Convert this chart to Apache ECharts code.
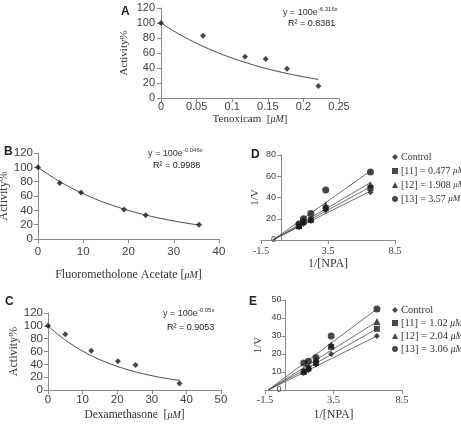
<!DOCTYPE html>
<html>
<head>
<meta charset="utf-8">
<script src="https://cdn.jsdelivr.net/npm/echarts@6/dist/echarts.min.js"></script>
<style>
html, body { margin: 0; padding: 0; background: #fff; }
#main { width: 461px; height: 431px; }
</style>
</head>
<body>
<div id="main"></div>
<script>
// panel A - tenoxicam
var tenoxX = [0, 0.059, 0.118, 0.147, 0.177, 0.221];
var tenoxY = [100, 83, 55, 52, 39, 16];
// panel B - fluorometholone acetate
var fluoX = [0, 4.8, 9.5, 19, 23.8, 35.6];
var fluoY = [100, 78, 65, 41, 33, 20];
// panel C - dexamethasone
var dexaX = [0, 5, 12.5, 20.2, 25.3, 38];
var dexaY = [100, 87, 61, 45, 39, 10];
// exponential trendlines y = 100e^(kx), as printed on the chart
var expK = [-6.316, -0.046, -0.05];
var expLabels = ['-6.316x', '-0.046x', '-0.05x'];
var r2Labels = ['0.8381', '0.9988', '0.9053'];

// panels D and E - Lineweaver-Burk
var npaX = [1.33, 1.67, 2.22, 3.33, 6.67];
var namesD = ['Control', '[11] = 0.477 μM', '[12] = 1.908 μM', '[13] = 3.57 μM'];
var namesE = ['Control', '[11] = 1.02 μM', '[12] = 2.04 μM', '[13] = 3.06 μM'];
var valuesD = [
    [12, 15, 18, 28, 45],
    [13, 17, 19, 30, 49],
    [14, 19, 20, 33, 52],
    [15, 20, 25, 47, 64]
];
var valuesE = [
    [9.5, 11, 14, 20, 30],
    [10, 12, 15, 24, 34],
    [11, 13, 17, 25, 38],
    [15, 16, 18, 30, 45]
];
// linear trendlines: shared x-intercept, value at last x
var lineStartD = -0.62, lineEndD = [46, 50, 54, 65];
var lineStartE = -1.26, lineEndE = [30, 34, 38, 45];
var symbols = ['diamond', 'rect', 'triangle', 'circle'];
var symbolSizes = [6, 6, 7, 7];

var sans = '"Liberation Sans", Arial, sans-serif';
var serif = '"Liberation Serif", "Times New Roman", serif';
var axisGray = '#8a8a8a';
var labelGray = '#404040';
var ink = '#1a1a1a';

// grid boxes
var grids = [
    { left: 161, top: 8, width: 178, height: 90 },
    { left: 38, top: 153, width: 181, height: 86 },
    { left: 48, top: 313, width: 173, height: 77 },
    { left: 261, top: 155, width: 134, height: 85 },
    { left: 265, top: 300, width: 137, height: 90 }
];

function zip(xs, ys) {
    return xs.map(function (x, i) { return [x, ys[i]]; });
}
function expCurve(xs, k) {
    var xMax = xs[xs.length - 1];
    var pts = [];
    for (var i = 0; i <= 40; i++) {
        var x = xMax * i / 40;
        pts.push([x, 100 * Math.exp(k * x)]);
    }
    return pts;
}

var muRich = { i: { fontStyle: 'italic', fontFamily: serif, fontSize: 10, color: '#333' } };

function xAx(idx, min, max, interval, name, o) {
    return {
        type: 'value', gridIndex: idx, min: min, max: max, interval: interval,
        splitLine: { show: false },
        axisLine: { onZero: false, lineStyle: { color: axisGray } },
        axisTick: { show: true, length: 4, lineStyle: { color: axisGray } },
        axisLabel: { fontFamily: o.labelFont || sans, fontSize: o.labelSize, color: labelGray, margin: o.margin },
        name: name, nameLocation: 'middle', nameGap: o.nameGap,
        nameTextStyle: { fontFamily: serif, fontSize: o.nameSize, color: '#333', rich: muRich }
    };
}
function yAx(idx, max, interval, name, o) {
    return {
        type: 'value', gridIndex: idx, min: 0, max: max, interval: interval,
        offset: o.offset || 0,
        splitLine: { show: false },
        axisLine: { onZero: false, lineStyle: { color: axisGray } },
        axisTick: { show: true, length: 4, lineStyle: { color: axisGray } },
        axisLabel: { fontFamily: sans, fontSize: o.labelSize, color: labelGray, margin: o.margin },
        name: name, nameLocation: 'middle', nameGap: o.nameGap,
        nameTextStyle: { fontFamily: serif, fontSize: o.nameSize, color: '#333' }
    };
}
// y axis of D/E crosses the x axis at 0 (x range -1.5..8.5)
function zeroOffset(g) {
    return -(1.5 / 10) * g.width;
}

var series = [];
// A-C scatter + curve
[[tenoxX, tenoxY], [fluoX, fluoY], [dexaX, dexaY]].forEach(function (d, i) {
    series.push({
        type: 'line', xAxisIndex: i, yAxisIndex: i, silent: true,
        data: expCurve(d[0], expK[i]), showSymbol: false,
        lineStyle: { color: '#4a4a4a', width: 1 }, z: 2
    });
    series.push({
        type: 'scatter', xAxisIndex: i, yAxisIndex: i,
        data: zip(d[0], d[1]), symbol: 'diamond', symbolSize: 6,
        itemStyle: { color: ink }, z: 3
    });
});
// D and E
function addLB(idx, names, values, start, ends) {
    for (var j = 0; j < 4; j++) {
        series.push({
            type: 'line', name: 'fit' + idx + j, xAxisIndex: idx, yAxisIndex: idx, silent: true,
            data: [[start, 0], [npaX[npaX.length - 1], ends[j]]], showSymbol: false,
            lineStyle: { color: '#4a4a4a', width: 0.8 }, z: 2
        });
    }
    for (var j = 0; j < 4; j++) {
        series.push({
            type: 'scatter', name: names[j], xAxisIndex: idx, yAxisIndex: idx,
            data: zip(npaX, values[j]), symbol: symbols[j], symbolSize: symbolSizes[j],
            itemStyle: { color: ink }, z: 3
        });
    }
}
addLB(3, namesD, valuesD, lineStartD, lineEndD);
addLB(4, namesE, valuesE, lineStartE, lineEndE);

function legendFmt(name) {
    return name.replace('μM', '{i|μM}');
}
function legend(names, top, gap, size) {
    return {
        data: names, orient: 'vertical', left: 392, top: top, padding: 0,
        itemWidth: 6, itemHeight: 6, itemGap: gap, selectedMode: false,
        formatter: legendFmt,
        textStyle: {
            fontFamily: serif, fontSize: size, color: '#333', lineHeight: 12,
            padding: [0, 0, 0, -2],
            rich: { i: { fontStyle: 'italic', fontFamily: serif, fontSize: size - 1, color: '#333' } }
        }
    };
}

function eqText(x, y, exp) {
    return {
        type: 'text', x: x, y: y,
        style: {
            text: '{n|y = 100e}{s|' + exp + '}',
            fill: '#333', textVerticalAlign: 'middle',
            rich: {
                n: { fontFamily: sans, fontSize: 9, lineHeight: 14, color: '#333' },
                s: { fontFamily: sans, fontSize: 6, lineHeight: 8, verticalAlign: 'top', color: '#333' }
            }
        }
    };
}
function plainText(x, y, txt, font) {
    return {
        type: 'text', x: x, y: y,
        style: { text: txt, font: font, fill: '#222', textVerticalAlign: 'middle' }
    };
}

var chart = echarts.init(document.getElementById('main'), null, { renderer: 'canvas' });
chart.setOption({
    animation: false,
    backgroundColor: '#fff',
    grid: grids.map(function (g) {
        return { left: g.left, top: g.top, width: g.width, height: g.height, containLabel: false, outerBoundsMode: 'none' };
    }),
    xAxis: [
        xAx(0, 0, 0.25, 0.05, 'Tenoxicam  [{i|μM}]', { labelSize: 11, margin: 3, nameGap: 16, nameSize: 11 }),
        xAx(1, 0, 40, 10, 'Fluorometholone Acetate [{i|μM}]', { labelSize: 11.5, margin: 7, nameGap: 30, nameSize: 12 }),
        xAx(2, 0, 50, 10, 'Dexamethasone  [{i|μM}]', { labelSize: 11.5, margin: 4, nameGap: 19, nameSize: 11.5 }),
        xAx(3, -1.5, 8.5, 5, '1/[NPA]', { labelFont: serif, labelSize: 10.5, margin: 6, nameGap: 18, nameSize: 12 }),
        xAx(4, -1.5, 8.5, 5, '1/[NPA]', { labelFont: serif, labelSize: 10.5, margin: 5, nameGap: 19, nameSize: 12 })
    ],
    yAxis: [
        yAx(0, 120, 20, 'Activity%', { labelSize: 11, margin: 6, nameGap: 31, nameSize: 11 }),
        yAx(1, 120, 20, 'Activity%', { labelSize: 11.5, margin: 5, nameGap: 20, nameSize: 12 }),
        yAx(2, 120, 20, 'Activity%', { labelSize: 11.5, margin: 5, nameGap: 27, nameSize: 12 }),
        yAx(3, 80, 20, '1/V', { labelSize: 9, margin: 5, nameGap: 20, nameSize: 11, offset: zeroOffset(grids[3]) }),
        yAx(4, 50, 10, '1/V', { labelSize: 9, margin: 4, nameGap: 22, nameSize: 11, offset: zeroOffset(grids[4]) })
    ],
    legend: [
        legend(namesD, 151, 2, 10),
        legend(namesE, 304, 1, 10.5)
    ],
    graphic: [
        plainText(121, 12, 'A', 'bold 12px ' + sans),
        plainText(4, 152, 'B', 'bold 12px ' + sans),
        plainText(5, 302, 'C', 'bold 12px ' + sans),
        plainText(251, 155, 'D', 'bold 12px ' + sans),
        plainText(249, 302, 'E', 'bold 12px ' + sans),
        eqText(283, 13, expLabels[0]),
        plainText(288, 24, 'R² = ' + r2Labels[0], '9px ' + sans),
        eqText(148, 154, expLabels[1]),
        plainText(153, 166, 'R² = ' + r2Labels[1], '9px ' + sans),
        eqText(163, 314, expLabels[2]),
        plainText(167, 327.5, 'R² = ' + r2Labels[2], '9px ' + sans)
    ],
    series: series
});
</script>
</body>
</html>
